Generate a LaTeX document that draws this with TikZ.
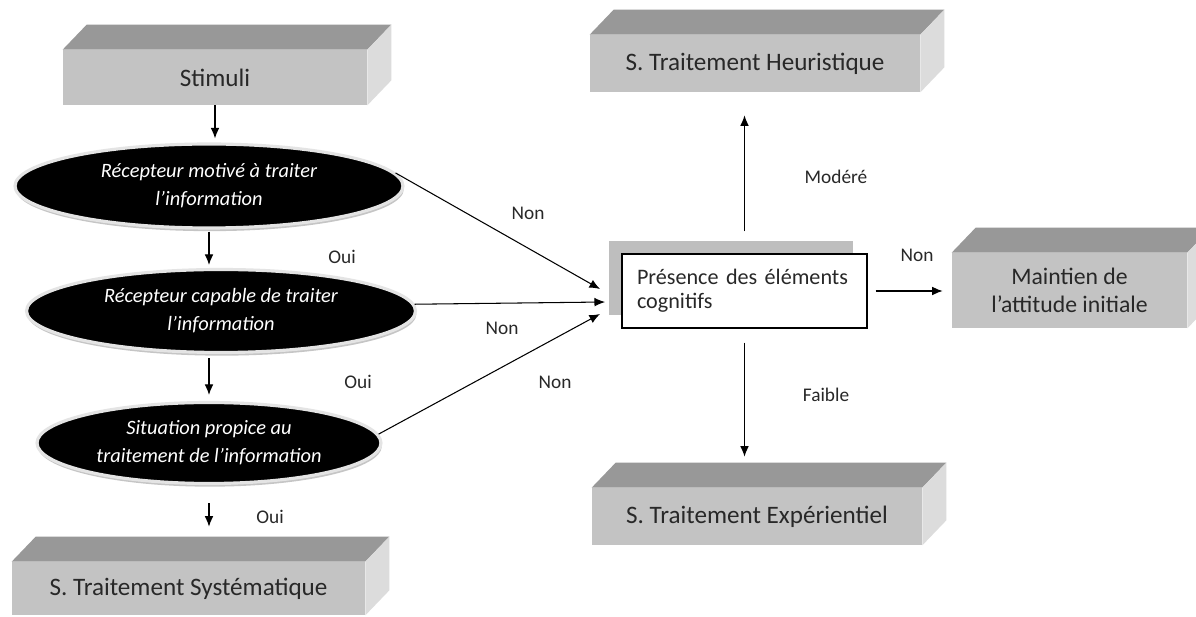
\documentclass[tikz,border=0pt]{standalone}
\usepackage{fontspec}
\setmainfont{Carlito}
\usetikzlibrary{shapes.geometric,arrows.meta,calc,shadows}
\definecolor{boxfront}{RGB}{195,195,195}
\definecolor{boxtop}{RGB}{152,152,152}
\definecolor{boxside}{RGB}{220,220,220}
\definecolor{rimgray}{RGB}{228,228,228}
\definecolor{shadegray}{RGB}{190,190,190}
\definecolor{txtgray}{RGB}{40,40,40}
\newcommand\boxfaces[1]{%
  \fill[boxtop] (#1.north west) -- ($(#1.north west)+(24,-25)$) -- ($(#1.north east)+(24,-25)$) -- (#1.north east) -- cycle;
  \fill[boxside] (#1.north east) -- ($(#1.north east)+(24,-25)$) -- ($(#1.south east)+(24,-25)$) -- (#1.south east) -- cycle;}
\begin{document}
\begin{tikzpicture}[x=0.02cm,y=-0.02cm,
  front/.style={rectangle, fill=boxfront, inner sep=0pt, font=\fontsize{14.3}{17}\selectfont, text=txtgray, align=center},
  oval/.style={ellipse, fill=black, draw=rimgray, line width=1.8pt, inner sep=0pt, text=white,
    font=\fontsize{11.6}{16}\selectfont\itshape, align=center,
    drop shadow={shadow xshift=0.5pt, shadow yshift=-1.8pt, fill=gray, opacity=0.45}},
  lbl/.style={font=\fontsize{11}{13}\selectfont, text=txtgray, inner sep=0pt},
  arr/.style={-{Latex[length=6pt,width=5pt]}, line width=0.7pt, black}]
\useasboundingbox (0,0) rectangle (1196,617);
\fill[white] (0,0) rectangle (1196,617);

% 3D boxes
\node[front, minimum width=6.08cm, minimum height=1.10cm] (stim) at (215,77.5) {Stimuli};
\boxfaces{stim}
\node[front, minimum width=6.60cm, minimum height=1.14cm] (heur) at (755,63.5) {S. Traitement Heuristique};
\boxfaces{heur}
\node[front, minimum width=6.60cm, minimum height=1.14cm] (exp) at (757,516.5) {S. Traitement Expérientiel};
\boxfaces{exp}
\node[front, minimum width=7.06cm, minimum height=1.06cm] (sys) at (188.5,588.5) {S. Traitement Systématique};
\boxfaces{sys}
\node[front, minimum width=4.70cm, minimum height=1.50cm, font=\fontsize{13.5}{16}\selectfont] (maint) at (1069.5,290.5) {Maintien de\\l’attitude initiale};
\boxfaces{maint}

% ellipses
\node[oval, minimum width=7.76cm, minimum height=1.68cm] (e1) at (209,186) {Récepteur motivé à traiter\\l’information};
\node[oval, minimum width=7.78cm, minimum height=1.66cm] (e2) at (221,311) {Récepteur capable de traiter\\l’information};
\node[oval, minimum width=6.88cm, minimum height=1.62cm] (e3) at (209,443) {Situation propice au\\traitement de l’information};

% central box
\fill[shadegray] (609,241) rectangle (853,315);
\node[rectangle, draw=black, line width=0.8pt, fill=white, minimum width=4.9cm, minimum height=1.48cm,
  text width=4.3cm, inner xsep=0.3cm, align=left, font=\fontsize{12.6}{13.5}\selectfont, text=txtgray] (cent) at (744.5,291) {Présence des éléments\\cognitifs};

% arrow tips on the central box
\coordinate (t1) at (600,289);
\coordinate (t2) at (605,302);
\coordinate (t3) at (600,314);

% vertical flow
\draw[arr, shorten >=4*0.02cm] (stim.south) -- (stim.south |- e1.north);
\draw[arr, shorten <=2*0.02cm, shorten >=3*0.02cm] (e1.south) -- (e1.south |- e2.north);
\draw[arr, shorten <=4*0.02cm, shorten >=6*0.02cm] (e3.north |- e2.south) -- (e3.north);
\draw[arr, shorten <=18*0.02cm, shorten >=35*0.02cm] (e3.south) -- (e3.south |- sys.north);

% Non arrows
\draw[arr, line width=0.6pt] (e1.4) -- (t1);
\draw[arr, line width=0.6pt] (e2.2) -- (t2);
\draw[arr, line width=0.6pt] (e3.3) -- (t3);

% central outputs
\draw[arr, shorten <=22*0.02cm, shorten >=23*0.02cm] (cent.north) -- (cent.north |- heur.south);
\draw[arr, shorten <=14*0.02cm, shorten >=31*0.02cm] (cent.south) -- (cent.south |- exp.north);
\draw[arr, shorten <=8*0.02cm, shorten >=9*0.02cm] (cent.east) -- (cent.east -| maint.west);

% labels
\node[lbl] (n1) at (528,213) {Non};
\node[lbl] (n2) at (502,328) {Non};
\node[lbl] (n3) at (555,382) {Non};
\node[lbl] (n4) at (917,255) {Non};
\node[lbl] (o1) at (342,257) {Oui};
\node[lbl] (o2) at (358,382) {Oui};
\node[lbl] (o3) at (270,517) {Oui};
\node[lbl] (mod) at (836,177) {Modéré};
\node[lbl] (fai) at (826,395) {Faible};
\end{tikzpicture}
\end{document}
